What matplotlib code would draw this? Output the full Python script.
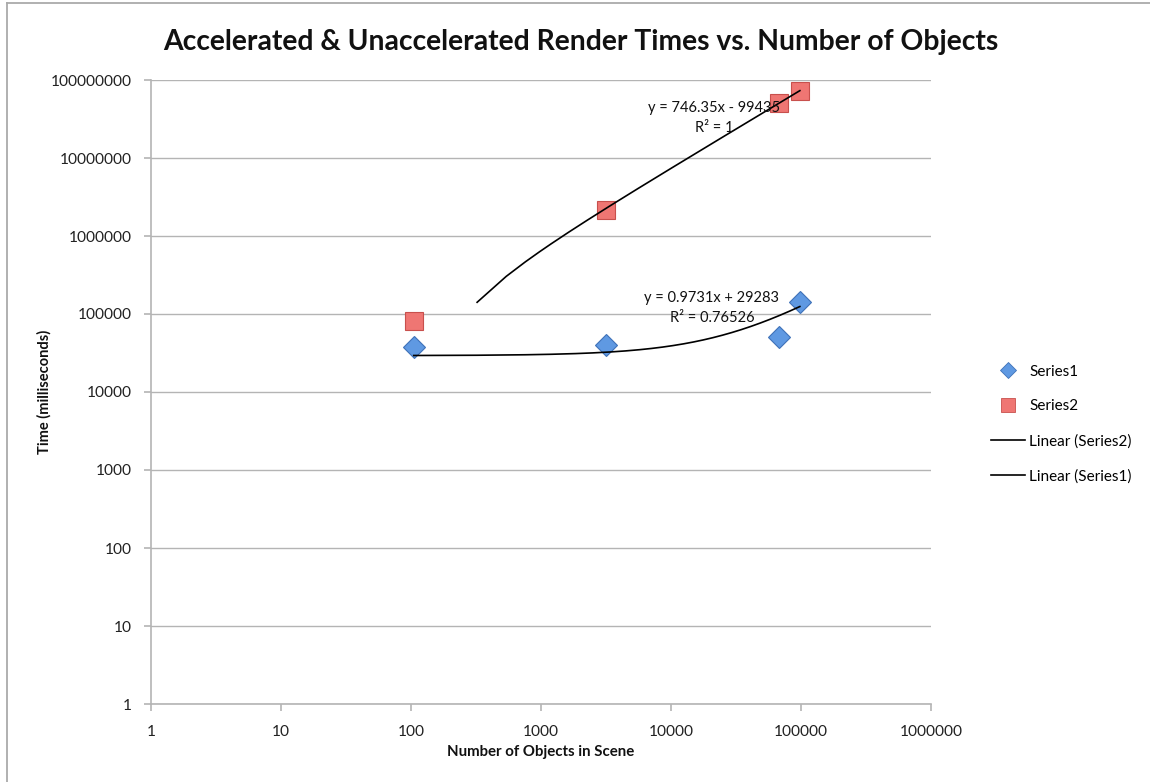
import numpy as np
import matplotlib
matplotlib.use("Agg")
import matplotlib.pyplot as plt
from matplotlib.lines import Line2D
from matplotlib.ticker import FixedLocator, FixedFormatter, NullLocator

# Render-time measurements (ms) against scene object count
objects_s1 = [105, 3162, 67800, 98000]
times_s1 = [37800, 40000, 50700, 142000]
objects_s2 = [105, 3162, 67800, 98000]
times_s2 = [81300, 2150000, 50700000, 72300000]

# Linear trendlines (slope, intercept, R²)
fit_s1 = (0.9731, 29283, "0.76526")
fit_s2 = (746.35, -99435, "1")

x_ticks = [1, 10, 100, 1000, 10000, 100000, 1000000]
y_ticks = [1, 10, 100, 1000, 10000, 100000, 1000000, 10000000, 100000000]

FONT = "Lato"
GRID = "#b4b4b4"

fig = plt.figure(figsize=(11.5, 7.82), dpi=100)
ax = fig.add_axes([151 / 1150, 1 - 704 / 782, 780 / 1150, 624 / 782])

ax.set_xscale("log")
ax.set_yscale("log")
ax.set_xlim(1, 1e6)
ax.set_ylim(1, 1e8)

ax.xaxis.set_major_locator(FixedLocator(x_ticks))
ax.xaxis.set_major_formatter(FixedFormatter([str(v) for v in x_ticks]))
ax.yaxis.set_major_locator(FixedLocator(y_ticks))
ax.yaxis.set_major_formatter(FixedFormatter([str(v) for v in y_ticks]))
ax.xaxis.set_minor_locator(NullLocator())
ax.yaxis.set_minor_locator(NullLocator())

ax.grid(axis="y", color=GRID, linewidth=1.0)
ax.set_axisbelow(True)
for side in ("top", "right"):
    ax.spines[side].set_visible(False)
for side in ("left", "bottom"):
    ax.spines[side].set_color(GRID)
    ax.spines[side].set_linewidth(1.2)
ax.tick_params(axis="both", which="major", color=GRID, length=5, width=1.2,
               labelsize=11.2, labelcolor="#222222")
ax.tick_params(axis="x", pad=10)
ax.tick_params(axis="y", pad=9)
for lbl in ax.get_xticklabels() + ax.get_yticklabels():
    lbl.set_fontfamily(FONT)


def trend(fit, xmin, xmax):
    slope, intercept, _ = fit
    xs = np.linspace(xmin, xmax, 451)
    ys = slope * xs + intercept
    keep = ys > 0
    return xs[keep], ys[keep]


tx2, ty2 = trend(fit_s2, min(objects_s2), max(objects_s2))
tx1, ty1 = trend(fit_s1, min(objects_s1), max(objects_s1))

blue_face, blue_edge = "#5f99e2", "#3f72b8"
red_face, red_edge = "#ef7673", "#c8504d"

ax.plot(objects_s1, times_s1, linestyle="none", marker="D", markersize=11,
        markerfacecolor=blue_face, markeredgecolor=blue_edge, markeredgewidth=0.8,
        zorder=3)
ax.plot(objects_s2, times_s2, linestyle="none", marker="s", markersize=12.5,
        markerfacecolor=red_face, markeredgecolor=red_edge, markeredgewidth=0.8,
        zorder=3)
ax.plot(tx2, ty2, color="black", linewidth=1.2, zorder=4)
ax.plot(tx1, ty1, color="black", linewidth=1.2, zorder=4)

eq_kw = dict(ha="center", va="center", fontsize=10.5, fontfamily=FONT,
             color="#111111", zorder=5)
ax.text(21400, 4.37e7, f"y = {fit_s2[0]}x - {abs(fit_s2[1])}", **eq_kw)
ax.text(21400, 2.43e7, f"R² = {fit_s2[2]}", **eq_kw)
ax.text(20650, 1.60e5, f"y = {fit_s1[0]}x + {fit_s1[1]}", **eq_kw)
ax.text(20650, 8.89e4, f"R² = {fit_s1[2]}", **eq_kw)

fig.text(0.505, 1 - 42 / 782, "Accelerated & Unaccelerated Render Times vs. Number of Objects",
         ha="center", va="center", fontsize=20.3, fontweight="bold", fontfamily=FONT,
         color="#111111")
fig.text(541 / 1150, 1 - 752 / 782, "Number of Objects in Scene", ha="center", va="center",
         fontsize=10.8, fontweight="bold", fontfamily=FONT, color="#111111")
fig.text(44 / 1150, 1 - 392 / 782, "Time (milliseconds)", ha="center", va="center",
         rotation=90, fontsize=10.5, fontweight="bold", fontfamily=FONT, color="#111111")

handles = [
    Line2D([], [], linestyle="none", marker="D", markersize=8,
           markerfacecolor=blue_face, markeredgecolor=blue_edge, markeredgewidth=0.6),
    Line2D([], [], linestyle="none", marker="s", markersize=10,
           markerfacecolor=red_face, markeredgecolor=red_edge, markeredgewidth=0.6),
    Line2D([], [], color="black", linewidth=1.2),
    Line2D([], [], color="black", linewidth=1.2),
]
labels = ["Series1", "Series2", "Linear (Series2)", "Linear (Series1)"]
fig.legend(handles, labels, loc="center left", bbox_to_anchor=(985 / 1150, 1 - 424 / 782),
           frameon=False, prop={"family": FONT, "size": 11}, handlelength=2.2,
           handletextpad=0.3, labelspacing=1.35, borderaxespad=0)

# Outer chart frame
fig.add_artist(Line2D([6.5 / 1150, 6.5 / 1150], [0, 1 - 2.5 / 782], color="#aaaaaa",
                      linewidth=1.3, transform=fig.transFigure))
fig.add_artist(Line2D([6.5 / 1150, 1], [1 - 2.5 / 782, 1 - 2.5 / 782], color="#aaaaaa",
                      linewidth=1.3, transform=fig.transFigure))

fig.savefig("out.png", dpi=100, facecolor="white")
